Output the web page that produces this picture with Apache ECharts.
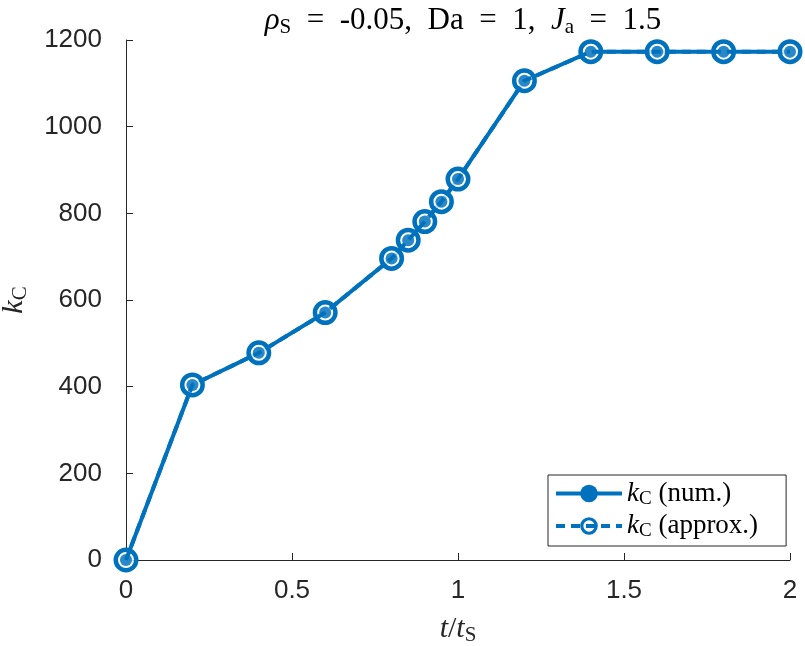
<!DOCTYPE html>
<html>
<head>
<meta charset="utf-8">
<script src="https://cdn.jsdelivr.net/npm/echarts@6/dist/echarts.min.js"></script>
<style>
  html, body { margin: 0; padding: 0; background: #fff; }
  #chart { width: 805px; height: 646px; }
</style>
</head>
<body>
<div id="chart"></div>
<script>
// t/tS sample points
var tRatio = [0, 0.2, 0.4, 0.6, 0.8, 0.85, 0.9, 0.95, 1.0, 1.2, 1.4, 1.6, 1.8, 2.0];
// kC numerical
var kNum = [0, 404, 478, 571, 696, 738, 781, 827, 879, 1106, 1173, 1173, 1173, 1173];
// kC approximation
var kApprox = [0, 404, 478, 571, 696, 738, 781, 827, 879, 1106, 1173, 1173, 1173, 1173];
var xTicks = [0, 0.5, 1, 1.5, 2];
var yTicks = [0, 200, 400, 600, 800, 1000, 1200];

var blue = '#0072BD';
var axisColor = '#262626';
var serif = '"Liberation Serif", "DejaVu Serif", serif';
var sans = '"Liberation Sans", Arial, sans-serif';
// ring marker (outer r 12.5, inner r 8), hole left open
var ringPath = 'path://M0,12.5A12.5,12.5,0,1,1,25,12.5A12.5,12.5,0,1,1,0,12.5Z' +
    'M4.5,12.5A8,8,0,1,0,20.5,12.5A8,8,0,1,0,4.5,12.5Z';

function pairs(xs, ys) {
    var out = [];
    for (var i = 0; i < xs.length; i++) out.push([xs[i], ys[i]]);
    return out;
}

// latex-ish rich styles
function mathRich(size, subSize, color) {
    return {
        i: { fontFamily: serif, fontStyle: 'italic', fontWeight: 'normal', fontSize: size, color: color },
        n: { fontFamily: serif, fontWeight: 'normal', fontSize: size, color: color },
        s: { fontFamily: serif, fontWeight: 'normal', fontSize: subSize, color: color, padding: [Math.round(size * 0.42), 0, 0, 0] }
    };
}

var chart = echarts.init(document.getElementById('chart'));
chart.setOption({
    animation: false,
    title: {
        text: '{i|ρ}{s|S}{n|  =  -0.05,  Da  =  1,  }{i|J}{s|a}{n|  =  1.5}',
        left: 458,
        textAlign: 'center',
        top: -1,
        textStyle: { rich: mathRich(31, 21, '#000') }
    },
    grid: { left: 126, right: 15, top: 40, bottom: 86, containLabel: false, outerBoundsMode: 'none' },
    xAxis: {
        type: 'value',
        min: 0, max: 2, interval: 0.5,
        name: '{i|t}{n|/}{i|t}{s|S}',
        nameLocation: 'middle',
        nameGap: 52,
        nameTextStyle: { rich: mathRich(30, 21, axisColor) },
        axisLine: { lineStyle: { color: axisColor, width: 1 } },
        axisTick: { inside: true, length: 7, lineStyle: { color: axisColor } },
        axisLabel: {
            color: axisColor, fontFamily: sans, fontSize: 26, margin: 18,
            formatter: function (v) { return xTicks.indexOf(v) >= 0 ? String(v) : ''; }
        },
        splitLine: { show: false }
    },
    yAxis: {
        type: 'value',
        min: 0, max: 1200, interval: 200,
        name: '{i|k}{s|C}',
        nameLocation: 'middle',
        nameGap: 95,
        nameRotate: 90,
        nameTextStyle: { rich: mathRich(30, 21, axisColor) },
        axisLine: { show: true, lineStyle: { color: axisColor, width: 1 } },
        axisTick: { show: true, inside: true, length: 7, lineStyle: { color: axisColor } },
        axisLabel: {
            color: axisColor, fontFamily: sans, fontSize: 26, margin: 24,
            formatter: function (v) { return yTicks.indexOf(v) >= 0 ? String(v) : ''; }
        },
        splitLine: { show: false }
    },
    legend: {
        orient: 'vertical',
        left: 548,
        top: 475,
        padding: [5, 28, 5, 6],
        itemGap: 4,
        itemWidth: 66,
        itemHeight: 22,
        borderColor: axisColor,
        borderWidth: 1,
        backgroundColor: '#fff',
        lineStyle: { width: 4 },
        data: ['num', 'approx'],
        formatter: function (name) {
            return '{i|k}{s|C}{n| (' + (name === 'num' ? 'num.' : 'approx.') + ')}';
        },
        textStyle: { rich: mathRich(27, 19, '#000') }
    },
    series: [
        {
            name: 'num',
            type: 'line',
            data: pairs(tRatio, kNum),
            symbol: 'circle',
            symbolSize: 12,
            clip: false,
            z: 1,
            lineStyle: { color: blue, width: 4 },
            itemStyle: { color: blue }
        },
        {
            // white inside of the rings
            type: 'scatter',
            data: pairs(tRatio, kApprox),
            symbol: 'circle',
            symbolSize: 16,
            clip: false,
            z: 2,
            itemStyle: { color: '#fff' },
            silent: true
        },
        {
            name: 'approx',
            type: 'line',
            data: pairs(tRatio, kApprox),
            symbol: ringPath,
            symbolSize: 25,
            clip: false,
            z: 3,
            lineStyle: { color: blue, width: 4, type: [9, 6] },
            itemStyle: { color: blue }
        },
        {
            // numerical dots redrawn on top of the rings
            type: 'scatter',
            data: pairs(tRatio, kNum),
            symbol: 'circle',
            symbolSize: 12,
            clip: false,
            z: 4,
            itemStyle: { color: blue },
            silent: true
        }
    ]
});
</script>
</body>
</html>
